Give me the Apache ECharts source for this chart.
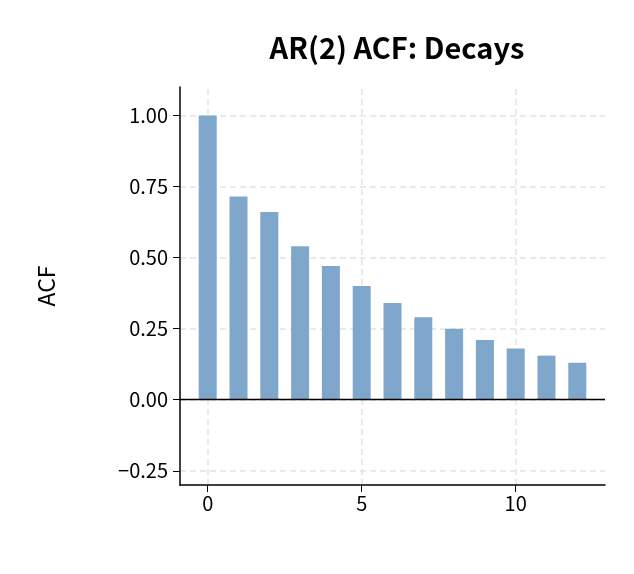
<!DOCTYPE html>
<html><head><meta charset="utf-8">
<script src="https://cdn.jsdelivr.net/npm/echarts@6/dist/echarts.min.js"></script>
<style>html,body{margin:0;padding:0;background:#fff}#c{width:634px;height:574px}</style>
</head><body><div id="c"></div>
<script>
const lags = [0,1,2,3,4,5,6,7,8,9,10,11,12];
const acf = [1.0,0.715,0.66,0.54,0.47,0.40,0.34,0.29,0.25,0.21,0.18,0.155,0.13];
const xTicks = [0,5,10];
const yTicks = [-0.25,0,0.25,0.5,0.75,1.0];
const font = 'Noto Sans CJK JP';
const chart = echarts.init(document.getElementById('c'));
const grid = [];
xTicks.forEach(v=>grid.push({xAxis:v}));
yTicks.forEach(v=>grid.push({yAxis:v}));
chart.setOption({
  animation:false,
  title:{text:'AR(2) ACF: Decays',left:392,top:28,textAlign:'center',textStyle:{fontFamily:font,fontWeight:'bold',fontSize:29,color:'#000'}},
  grid:{left:180,right:29,top:87,bottom:89},
  xAxis:{type:'value',min:-0.9,max:12.9,splitLine:{show:false},
    axisLine:{onZero:false,lineStyle:{color:'#000',width:1.5}},
    axisTick:{customValues:xTicks,length:7,lineStyle:{color:'#000'}},
    axisLabel:{customValues:xTicks,fontFamily:font,fontSize:20,color:'#000',margin:8}},
  yAxis:{type:'value',min:-0.3,max:1.1,name:'ACF',nameLocation:'middle',nameGap:122,
    nameTextStyle:{fontFamily:font,fontSize:23,color:'#000'},splitLine:{show:false},
    axisLine:{show:true,onZero:false,lineStyle:{color:'#000',width:1.5}},
    axisTick:{show:true,customValues:yTicks,length:7,lineStyle:{color:'#000'}},
    axisLabel:{customValues:yTicks,fontFamily:font,fontSize:20,color:'#000',margin:12,
      formatter:v=>(v<0?'\u2212':'')+Math.abs(v).toFixed(2)}},
  series:[{type:'bar',data:lags.map((l,i)=>[l,acf[i]]),barWidth:18,
    itemStyle:{color:'#7ea7cb'},
    markLine:{silent:true,symbol:'none',label:{show:false},z:-1,
      lineStyle:{type:[6,4],color:'#e3e3e3',width:1.5},data:grid}},
   {type:'line',data:[],markLine:{silent:true,symbol:'none',label:{show:false},
      lineStyle:{type:'solid',color:'#000',width:1.3},data:[{yAxis:0}]}}]
});
</script></body></html>
